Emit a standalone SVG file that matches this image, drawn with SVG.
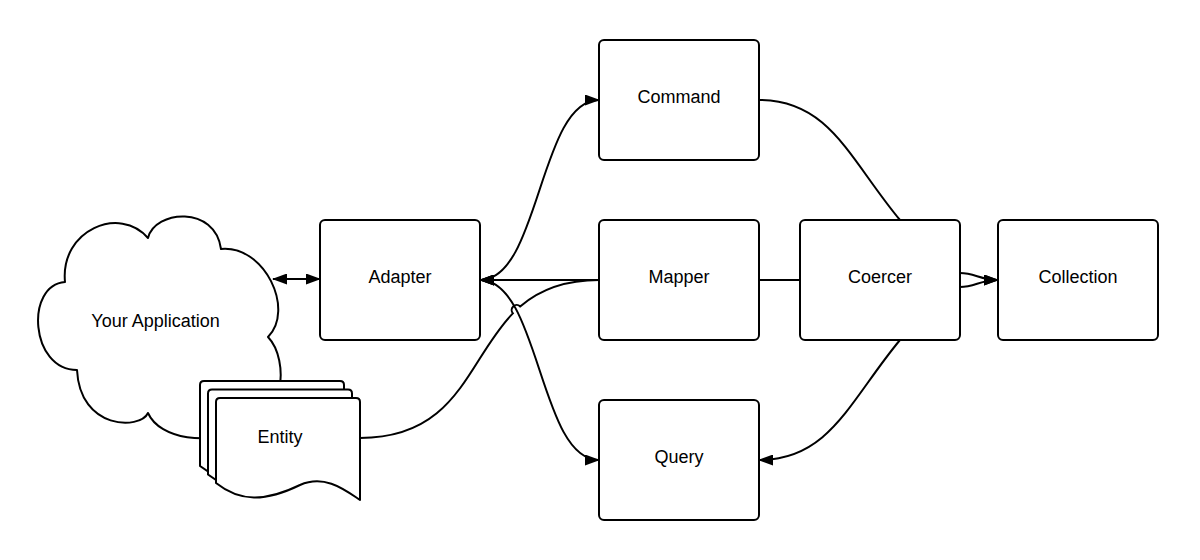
<svg xmlns="http://www.w3.org/2000/svg" xmlns:xlink="http://www.w3.org/1999/xlink" width="1200" height="560" viewBox="0 0 1200 560">
<style>
.shape{fill:#fff;stroke:#000;stroke-width:2;stroke-linejoin:round}
.lbl{font-family:"Liberation Sans",Arial,Helvetica,sans-serif;font-size:18px;fill:#000;text-anchor:middle}
.edge{fill:none;stroke:#000;stroke-width:2}
</style>
<defs>
<marker id="arr" markerWidth="15" markerHeight="11" refX="14" refY="5.5" orient="auto-start-reverse" markerUnits="userSpaceOnUse">
<path d="M0,0 L15,5.5 L0,11 z" fill="#000"/>
</marker>
<path id="doc" d="M0 4 Q0 0 4 0 L140 0 Q144 0 144 4 L144 102 C129 92 109 76 84 87 C49 104 24 104 0 85 Z"/>
</defs>
<rect width="1200" height="560" fill="#fff"/>
<g id="your-application">
<path class="shape" d="M65 282 C60 230 120 205 148 238 C155 210 215 205 221 249 C265 245 295 310 268 337 C290 360 285 425 240 430 C210 445 160 440 148 413 C140 430 80 430 77 370 C30 370 25 285 65 282 Z"/>
<text class="lbl" x="155.5" y="326.5">Your Application</text>
</g>
<g id="entity">
<use xlink:href="#doc" href="#doc" class="shape" transform="translate(200,381)"/>
<use xlink:href="#doc" href="#doc" class="shape" transform="translate(208,389.5)"/>
<use xlink:href="#doc" href="#doc" class="shape" transform="translate(216,398)"/>
<text class="lbl" x="280" y="442.8">Entity</text>
</g>
<g id="adapter">
<rect class="shape" x="320" y="220" width="160" height="120" rx="5"/>
<text class="lbl" x="400" y="282.8">Adapter</text>
</g>
<g id="command">
<rect class="shape" x="599" y="40" width="160" height="120" rx="5"/>
<text class="lbl" x="679" y="102.8">Command</text>
</g>
<g id="mapper">
<rect class="shape" x="599" y="220" width="160" height="120" rx="5"/>
<text class="lbl" x="679" y="282.8">Mapper</text>
</g>
<g id="query">
<rect class="shape" x="599" y="400" width="160" height="120" rx="5"/>
<text class="lbl" x="679" y="462.8">Query</text>
</g>
<g id="coercer">
<rect class="shape" x="800" y="220" width="160" height="120" rx="5"/>
<text class="lbl" x="880" y="282.8">Coercer</text>
</g>
<g id="collection">
<rect class="shape" x="998" y="220" width="160" height="120" rx="5"/>
<text class="lbl" x="1078" y="282.8">Collection</text>
</g>
<g id="connectors">
<path class="edge" d="M273 279 L320 279" marker-start="url(#arr)" marker-end="url(#arr)"/>
<path class="edge" d="M480 280 C540 280 539 100 599 100" marker-start="url(#arr)" marker-end="url(#arr)"/>
<path class="edge" d="M480 280 C540 280 539 460 599 460" marker-start="url(#arr)" marker-end="url(#arr)"/>
<path class="edge" d="M599 280 L480 280" marker-end="url(#arr)"/>
<path class="edge" d="M599 280 C562.6 280 538.44 290.68 520.15 306.49 A5 5 0 0 0 512.87 313.33 C467.42 359.69 458.56 438 360 438"/>
<path class="edge" d="M759 280 L800 280"/>
<path class="edge" d="M759 100 C830 100 850 160 900 220"/>
<path class="edge" d="M900 340 C850 400 830 460 759 460" marker-end="url(#arr)"/>
<path class="edge" d="M960 273 C975 273 980 280 998 280" marker-end="url(#arr)"/>
<path class="edge" d="M960 287 C975 287 980 280 998 280" marker-end="url(#arr)"/>
</g>
</svg>
